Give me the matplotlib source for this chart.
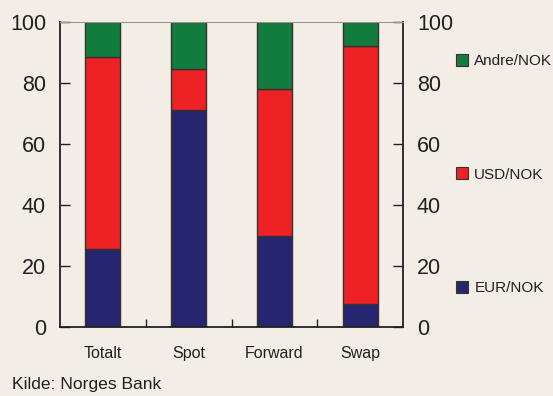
import matplotlib
matplotlib.use("Agg")
import matplotlib.pyplot as plt
from matplotlib.patches import Patch
from matplotlib import font_manager

# Andel av valutahandelen per instrument, prosent
categories = ["Totalt", "Spot", "Forward", "Swap"]
eur_nok = [25.5, 71.0, 30.0, 7.5]
usd_nok = [63.0, 13.5, 48.0, 84.5]
andre_nok = [11.5, 15.5, 22.0, 8.0]
y_ticks = [0, 20, 40, 60, 80, 100]

names = {f.name for f in font_manager.fontManager.ttflist}
family = "Liberation Sans Narrow" if "Liberation Sans Narrow" in names else "Liberation Sans"
plt.rcParams["font.family"] = [family, "DejaVu Sans"]

bg = "#f2eee6"
navy = "#262670"
red = "#ee2224"
green = "#127c3e"
edge = "#3a3030"
ink = "#231f20"

fig = plt.figure(figsize=(5.53, 3.96), dpi=100, facecolor=bg)
ax = fig.add_axes([60 / 553, 1 - 327 / 396, 343 / 553, 305 / 396])
ax.set_facecolor(bg)

x = range(len(categories))
w = 0.41
ax.bar(x, eur_nok, w, color=navy, edgecolor=edge, linewidth=1.0, zorder=2)
bottom2 = [a for a in eur_nok]
ax.bar(x, usd_nok, w, bottom=bottom2, color=red, edgecolor=edge, linewidth=1.0, zorder=2)
bottom3 = [a + b for a, b in zip(eur_nok, usd_nok)]
ax.bar(x, andre_nok, w, bottom=bottom3, color=green, edgecolor=edge, linewidth=1.0, zorder=2)

ax.set_xlim(-0.5, len(categories) - 0.5)
ax.set_ylim(0, 100)

for side in ["left", "right", "bottom"]:
    ax.spines[side].set_color(ink)
    ax.spines[side].set_linewidth(1.3)
ax.spines["top"].set_color("#9a9590")
ax.spines["top"].set_linewidth(0.8)

ax.set_xticks(list(x))
ax.set_xticklabels(categories, fontsize=11.5, color=ink)
ax.set_xticks([i + 0.5 for i in range(len(categories) - 1)], minor=True)
ax.tick_params(axis="x", which="major", length=0, pad=14)
ax.tick_params(axis="x", which="minor", direction="in", length=6, width=1.0, color=ink)

ax.set_yticks(y_ticks)
ax.tick_params(axis="y", which="major", direction="in", length=7, width=1.0,
               color=ink, labelsize=15.5, labelcolor=ink, pad=10,
               right=True, labelright=True)

handles = [Patch(facecolor=green, edgecolor=edge, linewidth=0.8),
           Patch(facecolor=red, edgecolor=edge, linewidth=0.8),
           Patch(facecolor=navy, edgecolor=edge, linewidth=0.8)]
leg = fig.legend(handles, ["Andre/NOK", "USD/NOK", "EUR/NOK"],
                 loc="upper left", bbox_to_anchor=(456 / 553, 1 - 54 / 396),
                 frameon=False, fontsize=11, labelspacing=6.5,
                 handlelength=0.8, handleheight=0.8, handletextpad=0.4,
                 borderpad=0, borderaxespad=0)
for t in leg.get_texts():
    t.set_color(ink)

fig.text(12 / 553, 1 - 385 / 396, "Kilde: Norges Bank", fontsize=12.6,
         color=ink, va="center", ha="left")

fig.savefig("out.png", dpi=100, facecolor=bg)
